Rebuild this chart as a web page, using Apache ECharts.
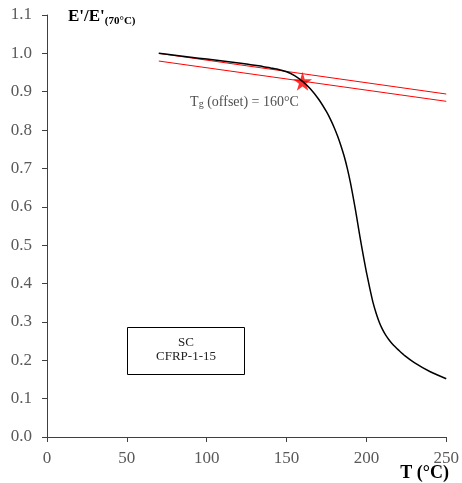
<!DOCTYPE html>
<html><head><meta charset="utf-8">
<script src="https://cdn.jsdelivr.net/npm/echarts@6/dist/echarts.min.js"></script>
<style>html,body{margin:0;padding:0;background:#fff}#c{width:462px;height:483px}</style>
</head><body><div id="c"></div>
<script>
const temps = [70,80,90,100,110,120,125,130,135,140,145,150,155,160,165,170,175,177.5,180,182,184,186,188,190,192,194,196,198,200,202,204,206,208,210,212,214,216,218,220,224,230,240,250];
const modulus = [1.000,0.995,0.990,0.985,0.980,0.975,0.972,0.969,0.966,0.962,0.958,0.952,0.942,0.927,0.907,0.881,0.848,0.828,0.805,0.784,0.760,0.733,0.701,0.663,0.619,0.571,0.521,0.474,0.430,0.390,0.353,0.324,0.300,0.281,0.266,0.254,0.244,0.235,0.227,0.212,0.194,0.170,0.152];
const tangentT = [70,250];
const tangentE = [1.000,0.894];
const offsetT = [70,250];
const offsetE = [0.980,0.875];
const tgPoint = [160,0.927];

const font = '"Liberation Serif","DejaVu Serif",serif';
const chart = echarts.init(document.getElementById('c'));
const zip = (a,b)=>a.map((v,i)=>[v,b[i]]);
chart.setOption({
  animation:false,
  grid:{left:47,right:15,top:15,bottom:46,containLabel:false},
  xAxis:{type:'value',min:0,max:250,interval:50,
    axisLine:{show:true,lineStyle:{color:'#404040',width:1}},
    axisTick:{show:true,length:5,inside:false,lineStyle:{color:'#404040'}},
    axisLabel:{margin:13,color:'#595959',fontFamily:font,fontSize:17},
    splitLine:{show:false}},
  yAxis:{type:'value',min:0,max:1.1,interval:0.1,
    axisLine:{show:true,lineStyle:{color:'#404040',width:1}},
    axisTick:{show:true,length:5,inside:false,lineStyle:{color:'#404040'}},
    axisLabel:{margin:15,color:'#595959',fontFamily:font,fontSize:17,formatter:v=>v.toFixed(1)},
    splitLine:{show:false}},
  series:[
    {type:'line',data:zip(tangentT,tangentE),symbol:'none',silent:true,lineStyle:{color:'#ff0000',width:1}},
    {type:'line',data:zip(offsetT,offsetE),symbol:'none',silent:true,lineStyle:{color:'#ff0000',width:1}},
    {type:'line',data:zip(temps,modulus),symbol:'none',smooth:0.2,lineStyle:{color:'#000',width:1.5}},
    {type:'scatter',data:[tgPoint],
      symbol:'path://M50,0 L61,35 L98,35 L68,57 L79,91 L50,70 L21,91 L32,57 L2,35 L39,35 Z',
      symbolSize:19,itemStyle:{color:'#ff0000'},
      label:{show:true,position:'bottom',offset:[-58,-2],
        formatter:'{a|T}{s|g}{a| (offset) = 160°C}',
        rich:{a:{fontFamily:font,fontSize:14,color:'#222'},s:{fontFamily:font,fontSize:10,color:'#222',verticalAlign:'bottom',padding:[6,0,0,0]}}}}
  ],
  graphic:[
    {type:'text',left:68,top:8,style:{text:"{m|E'/E'}{s|(70°C)}",rich:{m:{fontFamily:font,fontSize:17,fontWeight:'bold',fill:'#000'},s:{fontFamily:font,fontSize:11,fontWeight:'bold',fill:'#000',padding:[10,0,0,0]}}}},
    {type:'text',right:13,top:464,style:{text:'T (°C)',fontFamily:font,fontSize:18,fontWeight:'bold',fill:'#000'}},
    {type:'rect',shape:{x:127.5,y:327.5,width:117,height:47},style:{fill:'#fff',stroke:'#000',lineWidth:1}},
    {type:'text',x:186,y:343,style:{text:'SC',fontFamily:font,fontSize:13,fill:'#222',align:'center',verticalAlign:'middle'}},
    {type:'text',x:186,y:357,style:{text:'CFRP-1-15',fontFamily:font,fontSize:13,fill:'#222',align:'center',verticalAlign:'middle'}}
  ]
});
</script></body></html>
